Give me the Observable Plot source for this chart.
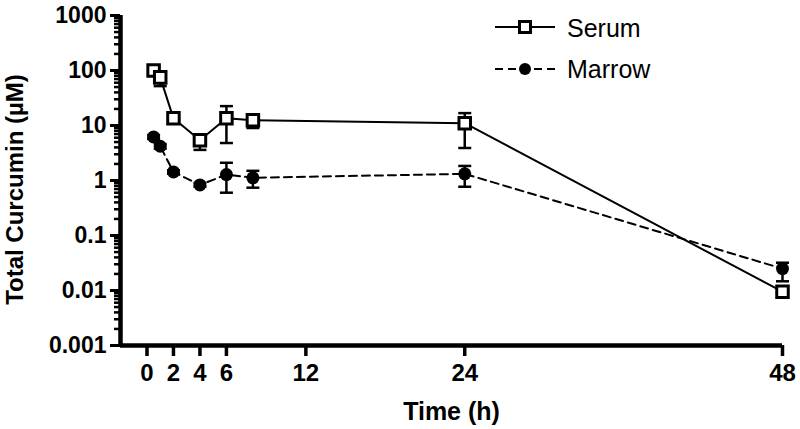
<!DOCTYPE html>
<html><head><meta charset="utf-8">
<script src="https://cdn.jsdelivr.net/npm/d3@7"></script>
<script src="https://cdn.jsdelivr.net/npm/@observablehq/plot@0.6"></script>
<style>
body{margin:0;background:#fff;}
#wrap{position:relative;width:800px;height:429px;font-family:"Liberation Sans",Arial,sans-serif;}
#legend{position:absolute;left:0;top:0;pointer-events:none;}
</style></head>
<body><div id="wrap"></div>
<script>
const times = [0.5, 1, 2, 4, 6, 8, 24, 48];
const serum = [100, 75, 13.5, 5.4, 13.5, 12.5, 11, 0.0095];
const serumLo = [90, 52, 12.5, 3.6, 4.8, 9, 3.9, 0.0088];
const serumHi = [110, 88, 14.5, 6.2, 22.5, 15.5, 16.8, 0.0105];
const marrow = [6.2, 4.2, 1.43, 0.83, 1.28, 1.12, 1.32, 0.025];
const marrowLo = [5.7, 3.8, 1.33, 0.77, 0.6, 0.74, 0.77, 0.0147];
const marrowHi = [6.7, 4.6, 1.53, 0.9, 2.1, 1.5, 1.84, 0.032];
const xTicks = [0, 2, 4, 6, 12, 24, 48];
const yTicks = [0.001, 0.01, 0.1, 1, 10, 100, 1000];
const seriesNames = ["Serum", "Marrow"];

const rows = (vals, lo, hi, name) => times.map((t, i) => ({t, v: vals[i], lo: lo[i], hi: hi[i], name}));
const S = rows(serum, serumLo, serumHi, "Serum");
const M = rows(marrow, marrowLo, marrowHi, "Marrow");
const minor = [];
for (let k = -3; k < 3; k++) for (let m = 2; m <= 9; m++) minor.push(+(m * Math.pow(10, k)).toPrecision(3));

const cap = {draw(ctx, size) { const r = 6.5; ctx.moveTo(-r, 0); ctx.lineTo(r, 0); }};

function errMarks(data) {
  return [
    Plot.ruleX(data, {x: "t", y1: "lo", y2: "hi", stroke: "black", strokeWidth: 2.5}),
    Plot.dot(data, {x: "t", y: "lo", symbol: cap, r: 6.5, stroke: "black", strokeWidth: 2.5}),
    Plot.dot(data, {x: "t", y: "hi", symbol: cap, r: 6.5, stroke: "black", strokeWidth: 2.5})
  ];
}

const chart = Plot.plot({
  width: 800, height: 429,
  marginLeft: 120, marginRight: 18, marginTop: 15, marginBottom: 84,
  style: {fontFamily: "'Liberation Sans', Arial, sans-serif", background: "white", color: "black"},
  x: {domain: [-2, 48], axis: null},
  y: {type: "log", domain: [0.001, 1000], axis: null},
  marks: [
    Plot.axisX({ticks: xTicks, tickSize: 11, strokeWidth: 3.5, tickPadding: 7, fontSize: 24, fontWeight: "bold", tickFormat: d => String(d), label: null}),
    Plot.axisY({ticks: yTicks, tickSize: 10, strokeWidth: 3, tickPadding: 4, fontSize: 23, fontWeight: "bold", tickFormat: d => String(d), label: null}),
    Plot.axisY({ticks: minor, tickSize: 6, strokeWidth: 2.5, tickFormat: () => "", label: null}),
    Plot.ruleX([-2], {stroke: "black", strokeWidth: 4.5}),
    Plot.ruleY([0.001], {stroke: "black", strokeWidth: 4.5}),
    Plot.text(["Total Curcumin (µM)"], {frameAnchor: "left", rotate: -90, dx: -105, dy: 9, textAnchor: "middle", lineAnchor: "middle", fontSize: 24, fontWeight: "bold"}),
    Plot.text(["Time (h)"], {frameAnchor: "bottom", dy: 66, textAnchor: "middle", lineAnchor: "middle", fontSize: 25, fontWeight: "bold"}),
    Plot.line(M, {x: "t", y: "v", stroke: "black", strokeWidth: 2, strokeDasharray: "8,5"}),
    ...errMarks(M),
    Plot.dot(M, {x: "t", y: "v", r: 6.5, fill: "black", stroke: "none"}),
    Plot.line(S, {x: "t", y: "v", stroke: "black", strokeWidth: 2}),
    ...errMarks(S),
    Plot.dot(S, {x: "t", y: "v", symbol: "square", r: 6.5, fill: "white", stroke: "black", strokeWidth: 3})
  ]
});
document.getElementById("wrap").appendChild(chart);

// legend
const ns = "http://www.w3.org/2000/svg";
const lg = document.createElementNS(ns, "svg");
lg.setAttribute("width", 800); lg.setAttribute("height", 100); lg.setAttribute("id", "legend");
lg.innerHTML = `
<line x1="495" y1="27" x2="555" y2="27" stroke="black" stroke-width="2"/>
<rect x="519.5" y="21.5" width="11" height="11" fill="white" stroke="black" stroke-width="3"/>
<text x="567" y="37" font-size="25" font-family="'Liberation Sans', Arial, sans-serif">${seriesNames[0]}</text>
<line x1="495" y1="69" x2="555" y2="69" stroke="black" stroke-width="2" stroke-dasharray="8,5"/>
<circle cx="525" cy="69" r="6" fill="black"/>
<text x="567" y="78" font-size="25" font-family="'Liberation Sans', Arial, sans-serif">${seriesNames[1]}</text>`;
document.getElementById("wrap").appendChild(lg);
</script></body></html>
